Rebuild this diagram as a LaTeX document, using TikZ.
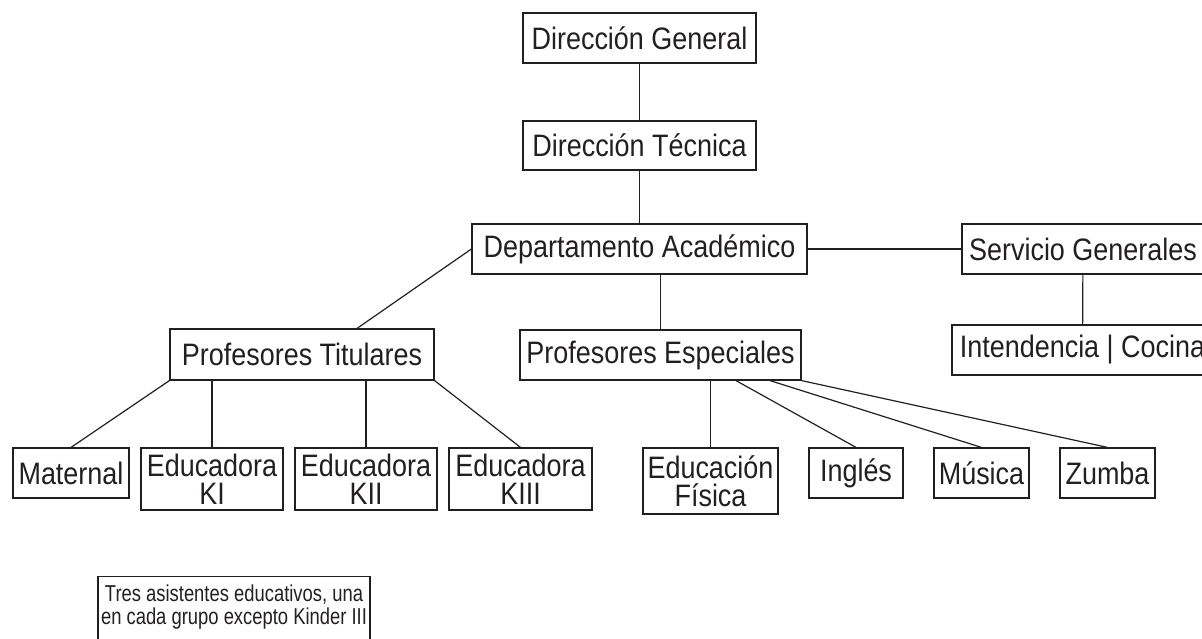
\documentclass[tikz,border=0pt]{standalone}
\usepackage{fontspec}
\setmainfont{Liberation Sans}[FakeStretch=0.87]
\newfontfamily\notefont{Liberation Sans}[FakeStretch=0.8]
\usetikzlibrary{calc}
\definecolor{ink}{HTML}{231F20}
\begin{document}
\begin{tikzpicture}[x=1pt,y=-1pt,
  box/.style={draw=ink, line width=1.2pt, text=ink, inner sep=0pt, align=center,
    font=\fontsize{31}{28}\selectfont},
  notetext/.style={text=ink, inner sep=0pt, align=center,
    font=\notefont\fontsize{23}{22.5}\selectfont},
  link/.style={draw=ink, line width=1.2pt}]
\useasboundingbox (0,0) rectangle (1202,639);
\begin{scope}
\clip (0,0) rectangle (1202,639);
\node[box, minimum width=233, minimum height=50] (dg) at (639.5,38) {Dirección General};
\node[box, minimum width=233, minimum height=49] (dt) at (639.5,145.5) {Dirección Técnica};
\node[box, minimum width=335, minimum height=50] (da) at (639.5,249) {Departamento Académico};
\node[box, minimum width=242, minimum height=50] (sg) at (1083,249) {Servicio Generales};
\node[box, minimum width=261, minimum height=50] (ic) at (1082.5,350) {Intendencia | Cocina};
\node[box, minimum width=264, minimum height=51] (pt) at (302,354.5) {Profesores Titulares};
\node[box, minimum width=281, minimum height=50] (pe) at (660.5,355) {Profesores Especiales};
\node[box, minimum width=116, minimum height=50] (ma) at (71,473) {Maternal};
\node[box, minimum width=142, minimum height=62] (k1) at (212,479) {Educadora\\KI};
\node[box, minimum width=142, minimum height=62] (k2) at (366,479) {Educadora\\KII};
\node[box, minimum width=143, minimum height=62] (k3) at (520.5,479) {Educadora\\KIII};
\node[box, minimum width=135, minimum height=66] (ef) at (710.5,481) {Educación\\Física};
\node[box, minimum width=94, minimum height=50] (in) at (856,473) {Inglés};
\node[box, minimum width=95, minimum height=50] (mu) at (981.5,473) {Música};
\node[box, minimum width=95, minimum height=50] (zu) at (1107.5,473) {Zumba};
\node[box, minimum width=272, minimum height=80, anchor=north] (nt) at (234,576) {};
\node[notetext, anchor=north] (ntt) at (234,585) {Tres asistentes educativos, una\\en cada grupo excepto Kinder III};

\draw[link] (dg) -- (dt);
\draw[link] (dt) -- (da);
\draw[link] (da) -- (sg);
\draw[link] (sg) -- (ic);
\draw[link] (da.west) -- ($(pt.north)+(55,0)$);
\draw[link] (da.south -| pe.north) -- (pe.north);
\draw[link] (pt.south west) -- (ma.north);
\draw[link] (k1.north |- pt.south) -- (k1.north);
\draw[link] (k2.north |- pt.south) -- (k2.north);
\draw[link] (pt.south east) -- (k3.north);
\draw[link] (ef.north |- pe.south) -- (ef.north);
\draw[link] ($(pe.south)+(75.5,0)$) -- (in.north);
\draw[link] ($(pe.south)+(109.5,0)$) -- (mu.north);
\draw[link] (pe.south east) -- (zu.north);
\end{scope}
\end{tikzpicture}
\end{document}
